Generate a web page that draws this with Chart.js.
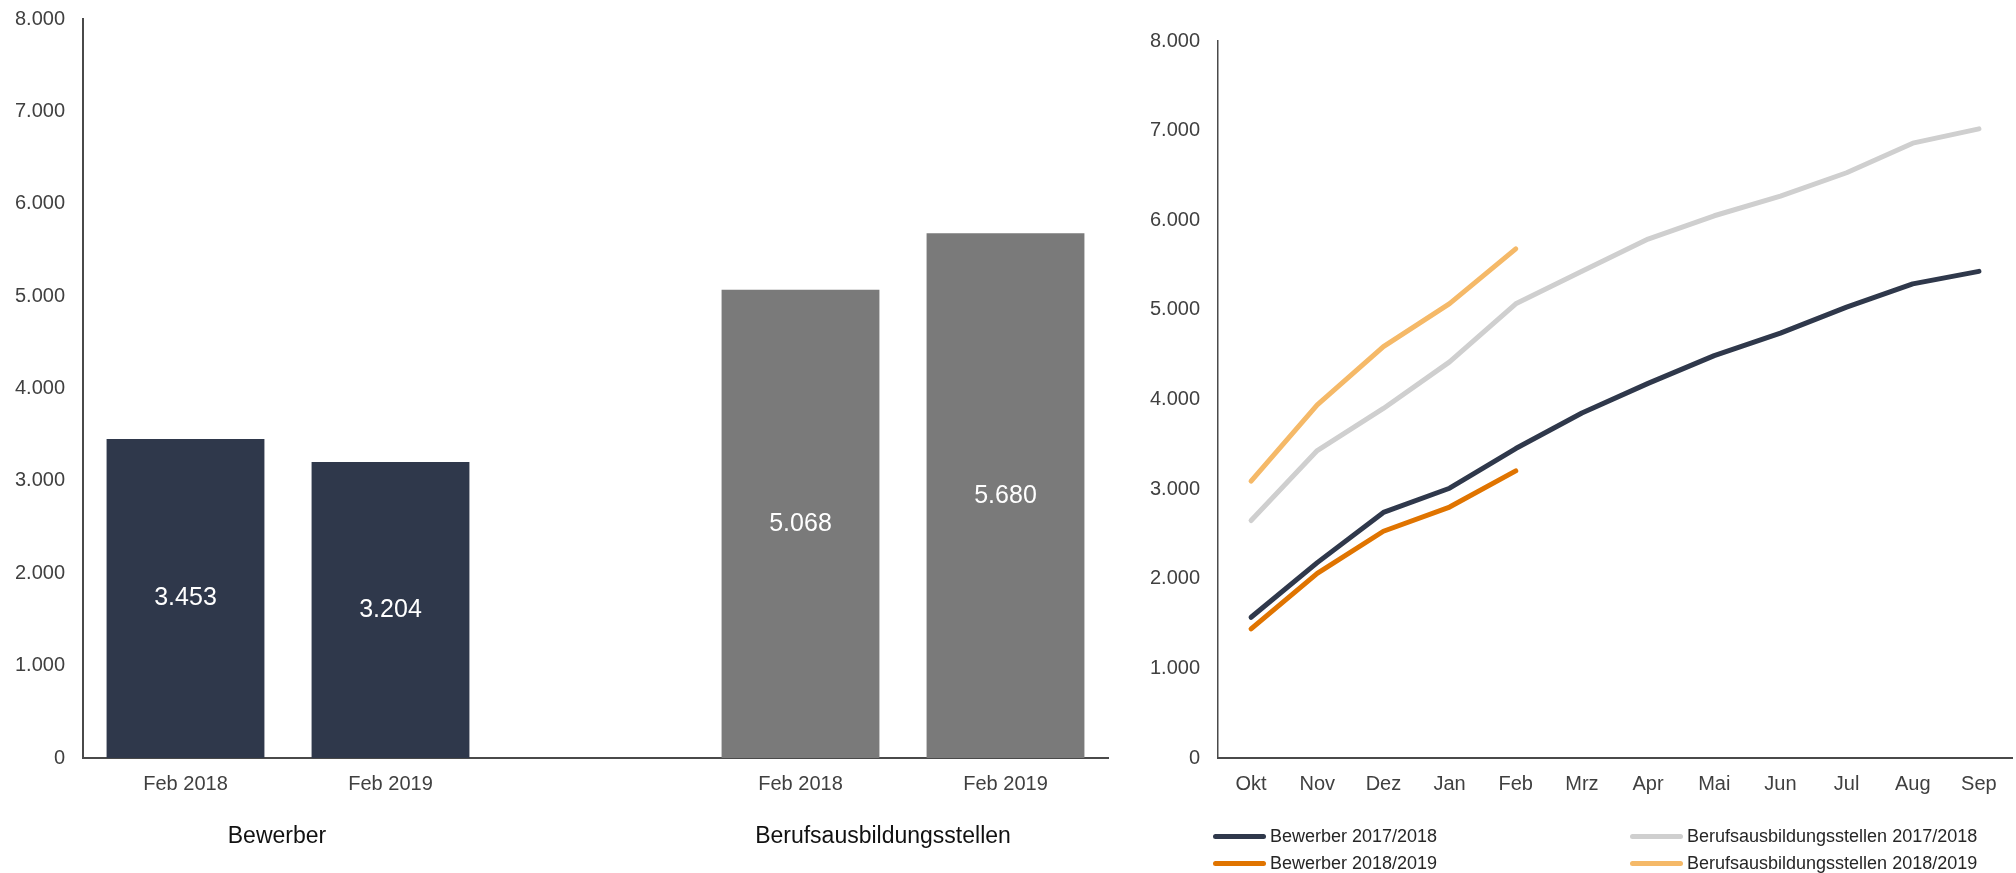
<!DOCTYPE html>
<html>
<head>
<meta charset="utf-8">
<script src="https://cdn.jsdelivr.net/npm/chart.js@4"></script>
<style>
  html, body { margin: 0; padding: 0; background: #fff; }
  body { width: 2016px; height: 873px; position: relative; overflow: hidden; font-family: "Liberation Sans", Arial, sans-serif; }
  #barBox { position: absolute; left: 0; top: -11px; width: 1120px; height: 884px; }
  #lineBox { position: absolute; left: 1120px; top: 0; width: 896px; height: 873px; }
  #legend { position: absolute; left: 0; top: 0; }
  .item { position: absolute; display: flex; align-items: center; font-size: 18px; color: #262626; white-space: nowrap; }
  .swatch { width: 53px; height: 5px; border-radius: 3px; margin-right: 4px; }
</style>
</head>
<body>
<div id="barBox"><canvas id="bars"></canvas></div>
<div id="lineBox"><canvas id="linhas"></canvas></div>
<div id="legend"></div>
<script>
// Balken: Stand Februar
const barLabels = ["Feb 2018", "Feb 2019", "", "Feb 2018", "Feb 2019"];
const barValues = [3453, 3204, null, 5068, 5680];
const barColors = ["#2f384b", "#2f384b", "#2f384b", "#7a7a7a", "#7a7a7a"];
const groupLabels = ["Bewerber", "Berufsausbildungsstellen"];

// Linien: kumuliert Okt - Sep
const months = ["Okt", "Nov", "Dez", "Jan", "Feb", "Mrz", "Apr", "Mai", "Jun", "Jul", "Aug", "Sep"];
const bewerber1718 = [1570, 2180, 2740, 3010, 3453, 3850, 4180, 4490, 4740, 5030, 5290, 5430];
const stellen1718 = [2650, 3430, 3900, 4420, 5068, 5430, 5790, 6050, 6270, 6530, 6860, 7020];
const bewerber1819 = [1440, 2060, 2530, 2800, 3204];
const stellen1819 = [3090, 3940, 4590, 5070, 5680];

const textColor = "#404040";
const fontFamily = "'Liberation Sans', Arial, sans-serif";

function numberWithDots(v) {
    return String(v).replace(/\B(?=(\d{3})+(?!\d))/g, ".");
}

const barLabelPlugin = {
    id: "barLabels",
    afterDatasetsDraw(chart) {
        const ctx = chart.ctx;
        const meta = chart.getDatasetMeta(0);
        ctx.save();
        ctx.fillStyle = "#ffffff";
        ctx.font = "25px " + fontFamily;
        ctx.textAlign = "center";
        ctx.textBaseline = "middle";
        meta.data.forEach((bar, i) => {
            if (barValues[i] == null) return;
            ctx.fillText(numberWithDots(barValues[i]), bar.x, (bar.y + bar.base) / 2);
        });
        ctx.restore();
    }
};

const groupPlugin = {
    id: "groups",
    afterDraw(chart) {
        const ctx = chart.ctx;
        const x = chart.scales.x;
        const y = chart.chartArea.bottom + 79;
        ctx.save();
        ctx.fillStyle = "#111111";
        ctx.font = "23px " + fontFamily;
        ctx.textAlign = "center";
        ctx.textBaseline = "middle";
        ctx.fillText(groupLabels[0], (x.getPixelForValue(0) + x.getPixelForValue(1)) / 2 - 11, y);
        ctx.fillText(groupLabels[1], (x.getPixelForValue(3) + x.getPixelForValue(4)) / 2 - 20, y);
        ctx.restore();
    }
};

function yAxis(width, borderWidth) {
    return {
        min: 0,
        max: 8000,
        afterFit: (scale) => { scale.width = width; },
        grid: { display: false, drawTicks: false },
        border: { display: true, color: "#4a4a4a", width: borderWidth },
        ticks: {
            stepSize: 1000,
            padding: 18,
            color: textColor,
            font: { size: 20, family: fontFamily },
            callback: (v) => numberWithDots(v)
        }
    };
}

function xAxis() {
    return {
        offset: true,
        afterFit: (scale) => { scale.height = 115; },
        grid: { display: false, drawTicks: false },
        border: { display: true, color: "#4a4a4a", width: 2 },
        ticks: {
            padding: 14,
            autoSkip: false,
            maxRotation: 0,
            color: textColor,
            font: { size: 20, family: fontFamily }
        }
    };
}

new Chart(document.getElementById("bars"), {
    type: "bar",
    data: {
        labels: barLabels,
        datasets: [{
            data: barValues,
            backgroundColor: barColors,
            categoryPercentage: 1,
            barPercentage: 0.77
        }]
    },
    options: {
        responsive: true,
        maintainAspectRatio: false,
        animation: false,
        layout: { padding: { top: 6, right: 12, left: 0, bottom: 0 } },
        plugins: { legend: { display: false }, tooltip: { enabled: false } },
        scales: { x: xAxis(), y: yAxis(83, 2) }
    },
    plugins: [barLabelPlugin, groupPlugin]
});

const lineSets = [
    { label: "Bewerber 2017/2018", data: bewerber1718, color: "#2f384b", col: 0, row: 0 },
    { label: "Berufsausbildungsstellen 2017/2018", data: stellen1718, color: "#cfcfcf", col: 1, row: 0 },
    { label: "Bewerber 2018/2019", data: bewerber1819, color: "#e07400", col: 0, row: 1 },
    { label: "Berufsausbildungsstellen 2018/2019", data: stellen1819, color: "#f5b968", col: 1, row: 1 }
];

const lineChart = new Chart(document.getElementById("linhas"), {
    type: "line",
    data: {
        labels: months,
        datasets: lineSets.map((s) => ({
            label: s.label,
            data: s.data,
            borderColor: s.color,
            backgroundColor: s.color,
            borderWidth: 5,
            pointRadius: 0,
            tension: 0,
            borderCapStyle: "round",
            borderJoinStyle: "round"
        }))
    },
    options: {
        responsive: true,
        maintainAspectRatio: false,
        animation: false,
        layout: { padding: { top: 41, right: 4, left: 0, bottom: 0 } },
        plugins: { legend: { display: false }, tooltip: { enabled: false } },
        scales: { x: xAxis(), y: yAxis(98, 1.5) }
    }
});

// Legende 2x2 wie im Original
const legend = document.getElementById("legend");
const colX = [1213, 1630];
const rowY = [836, 863];
lineChart.data.datasets.forEach((ds, i) => {
    const item = document.createElement("div");
    item.className = "item";
    item.style.left = colX[lineSets[i].col] + "px";
    item.style.top = (rowY[lineSets[i].row] - 11) + "px";
    item.style.height = "22px";
    item.innerHTML = `<span class="swatch" style="background:${ds.borderColor}"></span><span>${ds.label}</span>`;
    legend.appendChild(item);
});
</script>
</body>
</html>
